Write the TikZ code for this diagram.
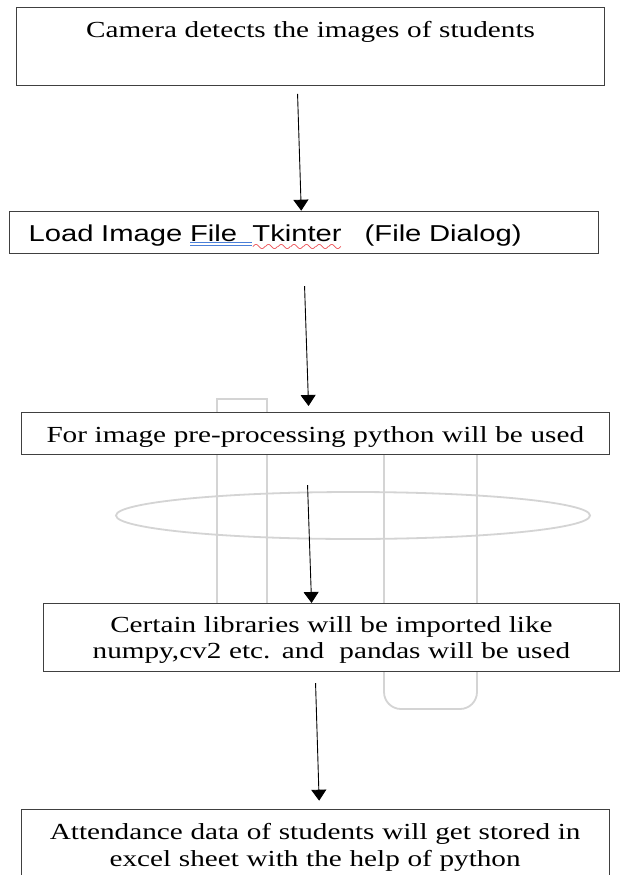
\documentclass[tikz,border=0pt]{standalone}
\usepackage{fontspec}
\usepackage{tikz}
\usetikzlibrary{arrows.meta}

\newfontfamily\serifwide[FakeStretch=1.27]{Liberation Serif}
\newfontfamily\sanswide[FakeStretch=1.27]{Liberation Sans}
\font\spellwavefont=lasy10 at 18pt

\definecolor{boxgray}{HTML}{404040}
\definecolor{ghostgray}{HTML}{D4D4D4}
\definecolor{spellblue}{HTML}{4A7FD8}
\definecolor{spellred}{HTML}{E8282E}

% spell-check marks under a word
\newcommand\spelldouble[1]{\setbox0\hbox{#1}\rlap{\color{spellblue}\rule[-1.8pt]{\wd0}{0.9pt}}\rlap{\color{spellblue}\rule[-5pt]{\wd0}{0.9pt}}\box0}
\newcommand\spellwave[1]{\setbox0\hbox{#1}\rlap{\color{spellred}\lower10.6pt\hbox to \wd0{\xleaders\hbox{\spellwavefont\char58}\hfil}}\box0}

\tikzset{
  stepbox/.style={draw=boxgray, line width=1.1pt, fill=white, inner sep=0pt, anchor=north west, align=center, font=\serifwide\fontsize{23}{26.6}\selectfont},
  flowarrow/.style={-{Triangle[width=15pt,length=11pt]}, line width=0.9pt},
  ghost/.style={draw=ghostgray, line width=1.8pt},
}

\begin{document}
\begin{tikzpicture}[x=1pt, y=-1pt]
    \useasboundingbox (0,0) rectangle (620,875);
    \clip (0,0) rectangle (620,875);
    \fill[white] (0,0) rectangle (620,875);

    % faint shapes left behind the boxes
    \draw[ghost] (217,640) -- (217,399) -- (267,399) -- (267,640); % left tube
    \draw[ghost, rounded corners=17pt] (384,430) -- (384,709) -- (477,709) -- (477,430); % right tube
    \draw[ghost] (353,515.5) ellipse [x radius=237, y radius=23.5]; % flat ring

    % the five steps
    \node[stepbox, text width=588pt, text height=30pt, text depth=47.4pt] (cam) at (16,7.3) {Camera detects the images of students};
    \node[stepbox, text width=589pt, text height=30pt, text depth=12pt, align=left, font=\sanswide\fontsize{23}{26.6}\selectfont] (load) at (9,210.7) {\hspace*{19pt}Load Image \spelldouble{File\ \ }\spellwave{Tkinter}\ \ \ (File Dialog)};
    \node[stepbox, text width=588.5pt, text height=30pt, text depth=12.3pt] (pre) at (20.5,411.7) {For image pre-processing python will be used};
    \node[stepbox, text width=576.3pt, text height=28.7pt, text depth=39.3pt] (libs) at (42.7,603) {Certain libraries will be imported like\\numpy,cv2 etc. and\ \ pandas will be used};
    \node[stepbox, text width=588.2pt, text height=30.3pt, text depth=60pt] (store) at (20.5,809) {Attendance data of students will get stored in\\excel sheet with the help of python};

    % arrows between the steps
    \draw[flowarrow] ([xshift=-13pt,yshift=-8pt]cam.south) -- ([xshift=-2.8pt]load.north);
    \draw[flowarrow] ([xshift=0.5pt,yshift=-32.3pt]load.south) -- ([xshift=-6.75pt,yshift=5.7pt]pre.north);
    \draw[flowarrow] ([xshift=-7.75pt,yshift=-30pt]pre.south) -- ([xshift=-19.85pt]libs.north);
    \draw[flowarrow] ([xshift=-15.85pt,yshift=-11pt]libs.south) -- ([xshift=4pt,yshift=8.3pt]store.north);
\end{tikzpicture}
\end{document}
